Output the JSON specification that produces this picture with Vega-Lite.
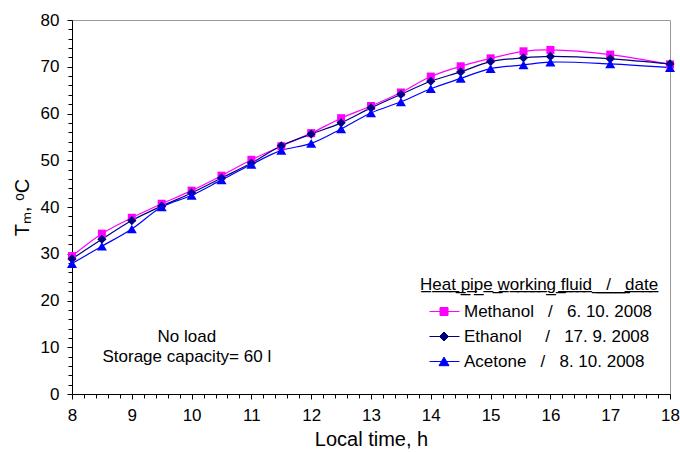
{
  "$schema": "https://vega.github.io/schema/vega-lite/v6.json",
  "width": 598,
  "height": 374,
  "autosize": "none",
  "padding": {"left": 72, "top": 20, "right": 10, "bottom": 58},
  "background": "white",
  "config": {
    "font": "Liberation Sans",
    "view": {"stroke": "#9a9a9a", "strokeWidth": 1},
    "axis": {
      "grid": false,
      "domainColor": "black",
      "tickColor": "black",
      "labelColor": "black",
      "titleColor": "black",
      "labelFont": "Liberation Sans",
      "titleFont": "Liberation Sans",
      "labelFontSize": 17,
      "titleFontSize": 20,
      "titleFontWeight": "normal"
    }
  },
  "data": {
    "values": [
      {"fluid": "Methanol", "t": 8, "T": 29.5},
      {"fluid": "Methanol", "t": 8.5, "T": 34.3},
      {"fluid": "Methanol", "t": 9, "T": 37.7},
      {"fluid": "Methanol", "t": 9.5, "T": 40.7},
      {"fluid": "Methanol", "t": 10, "T": 43.5},
      {"fluid": "Methanol", "t": 10.5, "T": 46.7},
      {"fluid": "Methanol", "t": 11, "T": 50.1},
      {"fluid": "Methanol", "t": 11.5, "T": 53.0},
      {"fluid": "Methanol", "t": 12, "T": 55.8},
      {"fluid": "Methanol", "t": 12.5, "T": 59.0},
      {"fluid": "Methanol", "t": 13, "T": 61.6},
      {"fluid": "Methanol", "t": 13.5, "T": 64.5},
      {"fluid": "Methanol", "t": 14, "T": 67.9},
      {"fluid": "Methanol", "t": 14.5, "T": 70.1},
      {"fluid": "Methanol", "t": 15, "T": 71.8},
      {"fluid": "Methanol", "t": 15.55, "T": 73.3},
      {"fluid": "Methanol", "t": 16, "T": 73.6},
      {"fluid": "Methanol", "t": 17, "T": 72.6},
      {"fluid": "Methanol", "t": 18, "T": 70.5},
      {"fluid": "Ethanol", "t": 8, "T": 28.9},
      {"fluid": "Ethanol", "t": 8.5, "T": 33.1},
      {"fluid": "Ethanol", "t": 9, "T": 37.1},
      {"fluid": "Ethanol", "t": 9.5, "T": 40.2},
      {"fluid": "Ethanol", "t": 10, "T": 43.0},
      {"fluid": "Ethanol", "t": 10.5, "T": 46.2},
      {"fluid": "Ethanol", "t": 11, "T": 49.4},
      {"fluid": "Ethanol", "t": 11.5, "T": 53.1},
      {"fluid": "Ethanol", "t": 12, "T": 55.6},
      {"fluid": "Ethanol", "t": 12.5, "T": 58.0},
      {"fluid": "Ethanol", "t": 13, "T": 61.2},
      {"fluid": "Ethanol", "t": 13.5, "T": 64.1},
      {"fluid": "Ethanol", "t": 14, "T": 66.9},
      {"fluid": "Ethanol", "t": 14.5, "T": 68.9},
      {"fluid": "Ethanol", "t": 15, "T": 71.1},
      {"fluid": "Ethanol", "t": 15.55, "T": 71.9},
      {"fluid": "Ethanol", "t": 16, "T": 72.2},
      {"fluid": "Ethanol", "t": 17, "T": 71.7},
      {"fluid": "Ethanol", "t": 18, "T": 70.6},
      {"fluid": "Acetone", "t": 8, "T": 27.9},
      {"fluid": "Acetone", "t": 8.5, "T": 31.6},
      {"fluid": "Acetone", "t": 9, "T": 35.3},
      {"fluid": "Acetone", "t": 9.5, "T": 40.0},
      {"fluid": "Acetone", "t": 10, "T": 42.5},
      {"fluid": "Acetone", "t": 10.5, "T": 45.8},
      {"fluid": "Acetone", "t": 11, "T": 49.1},
      {"fluid": "Acetone", "t": 11.5, "T": 52.1},
      {"fluid": "Acetone", "t": 12, "T": 53.6},
      {"fluid": "Acetone", "t": 12.5, "T": 56.7},
      {"fluid": "Acetone", "t": 13, "T": 60.1},
      {"fluid": "Acetone", "t": 13.5, "T": 62.5},
      {"fluid": "Acetone", "t": 14, "T": 65.3},
      {"fluid": "Acetone", "t": 14.5, "T": 67.5},
      {"fluid": "Acetone", "t": 15, "T": 69.6},
      {"fluid": "Acetone", "t": 15.55, "T": 70.4},
      {"fluid": "Acetone", "t": 16, "T": 71.0},
      {"fluid": "Acetone", "t": 17, "T": 70.6},
      {"fluid": "Acetone", "t": 18, "T": 69.8}
    ]
  },
  "encoding": {
    "x": {
      "field": "t", "type": "quantitative",
      "scale": {"domain": [8, 18], "nice": false, "zero": false},
      "axis": {
        "title": "Local time, h",
        "values": [8,8.2,8.4,8.6,8.8,9,9.2,9.4,9.6,9.8,10,10.2,10.4,10.6,10.8,11,11.2,11.4,11.6,11.8,12,12.2,12.4,12.6,12.8,13,13.2,13.4,13.6,13.8,14,14.2,14.4,14.6,14.8,15,15.2,15.4,15.6,15.8,16,16.2,16.4,16.6,16.8,17,17.2,17.4,17.6,17.8,18],
        "labelExpr": "abs(datum.value - round(datum.value)) < 0.001 ? format(datum.value, 'd') : ''",
        "tickSize": {"condition": {"test": "abs(datum.value - round(datum.value)) < 0.001", "value": 5}, "value": 4},
        "labelPadding": 8,
        "titlePadding": 6,
        "labelFlush": false,
        "labelOverlap": false
      }
    },
    "y": {
      "field": "T", "type": "quantitative",
      "scale": {"domain": [0, 80], "nice": false},
      "axis": {
        "title": "Tₘ, ᵒC",
        "values": [0,2,4,6,8,10,12,14,16,18,20,22,24,26,28,30,32,34,36,38,40,42,44,46,48,50,52,54,56,58,60,62,64,66,68,70,72,74,76,78,80],
        "labelExpr": "datum.value % 10 === 0 ? format(datum.value, 'd') : ''",
        "tickSize": {"condition": {"test": "datum.value % 10 === 0", "value": 5}, "value": 4},
        "labelPadding": 8,
        "titlePadding": 8,
        "labelFlush": false,
        "labelOverlap": false
      }
    }
  },
  "layer": [
    {
      "mark": {"type": "line", "interpolate": "catmull-rom", "strokeWidth": 1.2},
      "encoding": {
        "color": {
          "field": "fluid", "type": "nominal",
          "scale": {"domain": ["Methanol", "Ethanol", "Acetone"], "range": ["#ff00ff", "#000080", "#0000ff"]},
          "legend": {
            "orient": "none",
            "legendX": 348,
            "legendY": 257,
            "padding": 0,
            "title": "H̲e̲a̲t̲ ̲p̲i̲p̲e̲ ̲w̲o̲r̲k̲i̲n̲g̲ ̲f̲l̲u̲i̲d̲\u00a0̲\u00a0̲\u00a0̲/̲\u00a0̲\u00a0̲\u00a0̲d̲a̲t̲e̲",
            "titleFont": "Liberation Sans",
            "titleFontSize": 17,
            "titleFontWeight": "normal",
            "titleColor": "black",
            "titlePadding": 7,
            "titleLimit": 400,
            "labelFont": "Liberation Sans",
            "labelFontSize": 17,
            "labelColor": "black",
            "labelOffset": 23,
            "labelLimit": 400,
            "symbolSize": 400,
            "symbolStrokeWidth": 1,
            "symbolOpacity": 1,
            "rowPadding": 6,
            "labelExpr": "datum.label === 'Methanol' ? 'Methanol\u00a0\u00a0\u00a0/\u00a0\u00a0\u00a06. 10. 2008' : datum.label === 'Ethanol' ? 'Ethanol\u00a0\u00a0\u00a0\u00a0\u00a0/\u00a0\u00a0\u00a017. 9. 2008' : 'Acetone\u00a0\u00a0\u00a0/\u00a0\u00a0\u00a08. 10. 2008'",
            "encode": {
              "symbols": {
                "update": {
                  "shape": {"signal": "datum.value === 'Methanol' ? 'M-0.1,0H2.9M0.95,-0.4H1.75V0.4H0.95Z' : datum.value === 'Ethanol' ? 'M-0.1,0H2.9M1.35,-0.45L1.8,0L1.35,0.45L0.9,0Z' : 'M-0.1,0H2.9M1.35,-0.45L1.85,0.42L0.85,0.42Z'"},
                  "strokeWidth": {"value": 1}
                }
              }
            }
          }
        },
        "detail": {"field": "fluid"}
      }
    },
    {
      "transform": [{"filter": {"field": "fluid", "equal": "Methanol"}}],
      "mark": {"type": "point", "shape": "square", "size": 64, "filled": true, "opacity": 1},
      "encoding": {"color": {"field": "fluid", "type": "nominal"}}
    },
    {
      "transform": [{"filter": {"field": "fluid", "equal": "Ethanol"}}],
      "mark": {"type": "point", "shape": "diamond", "size": 85, "filled": true, "opacity": 1},
      "encoding": {"color": {"field": "fluid", "type": "nominal"}}
    },
    {
      "transform": [{"filter": {"field": "fluid", "equal": "Acetone"}}],
      "mark": {"type": "point", "shape": "triangle-up", "size": 100, "filled": true, "opacity": 1},
      "encoding": {"color": {"field": "fluid", "type": "nominal"}}
    },
    {
      "data": {
        "values": [
          {"note": "No load", "t": 9.92, "T": 12.1},
          {"note": "Storage capacity= 60 l", "t": 9.92, "T": 7.9}
        ]
      },
      "mark": {"type": "text", "font": "Liberation Sans", "fontSize": 17, "color": "black", "align": "center", "baseline": "middle"},
      "encoding": {
        "text": {"field": "note"}
      }
    }
  ]
}
